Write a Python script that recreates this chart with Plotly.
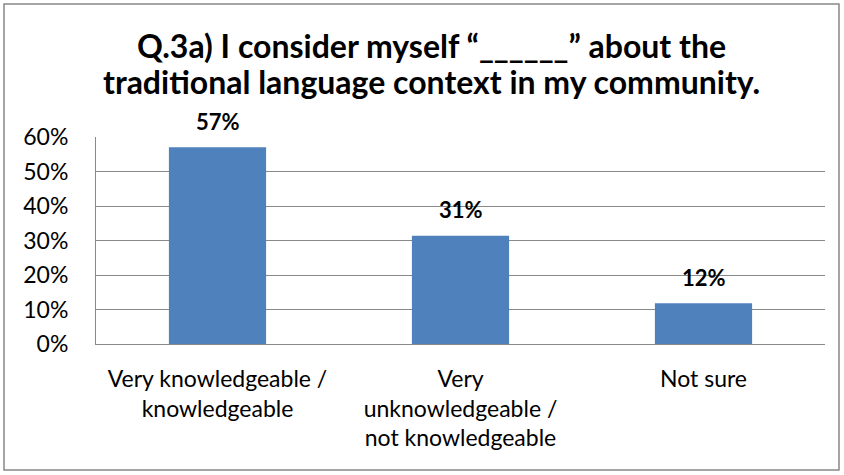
import plotly.graph_objects as go

categories = ["Very knowledgeable /<br>knowledgeable",
              "Very<br>unknowledgeable /<br>not knowledgeable",
              "Not sure"]
values = [0.57, 0.314, 0.118]
labels = ["57%", "31%", "12%"]
yticks = [0, 0.1, 0.2, 0.3, 0.4, 0.5, 0.6]
title_lines = ["Q.3a) I consider myself \u201c______\u201d about the",
               "traditional language context in my community."]

FONT = "Lato"
W, H = 844, 475
L, R, T, B = 96, 825, 137, 344
pw, ph = R - L, B - T

fig = go.Figure(go.Bar(
    x=categories, y=values,
    marker=dict(color="#4F81BD", line=dict(width=0)),
    cliponaxis=False, hoverinfo="skip"))

annotations = []
title_y = [45, 82]
for t, yy in zip(title_lines, title_y):
    annotations.append(dict(text=t, x=(431 - L) / pw, xref="paper", xanchor="center",
                            y=(B - yy) / ph, yref="paper", yanchor="middle",
                            showarrow=False,
                            font=dict(family=FONT, size=32, color="black", weight="bold")))
for c, v, lab in zip(categories, values, labels):
    annotations.append(dict(text=lab, x=c, y=v, xref="x", yref="y",
                            yanchor="middle", yshift=26, showarrow=False,
                            font=dict(family=FONT, size=22, color="black", weight="bold")))

fig.update_layout(
    width=W, height=H,
    margin=dict(l=L, r=W - R, t=T, b=H - B, pad=0),
    paper_bgcolor="white", plot_bgcolor="white",
    bargap=0.6, showlegend=False,
    font=dict(family=FONT, size=23, color="black"),
    annotations=annotations,
    xaxis=dict(showline=True, linecolor="#898989", linewidth=1, ticks="",
               tickfont=dict(size=23), showgrid=False, ticklabelstandoff=14),
    yaxis=dict(range=[0, 0.6], tickvals=yticks, tickformat=".0%",
               showline=True, linecolor="#898989", linewidth=1,
               showgrid=True, gridcolor="#898989", gridwidth=1,
               ticks="", ticklen=0, tickfont=dict(size=23), zeroline=False,
               ticklabelstandoff=22),
    shapes=[dict(type="rect", xref="paper", yref="paper",
                 x0=(4 - L) / pw, x1=(839 - L) / pw,
                 y0=(B - 470) / ph, y1=(B - 4) / ph,
                 line=dict(color="#888888", width=1.5), fillcolor="rgba(0,0,0,0)",
                 layer="below")],
)

fig.write_html("out.html")
